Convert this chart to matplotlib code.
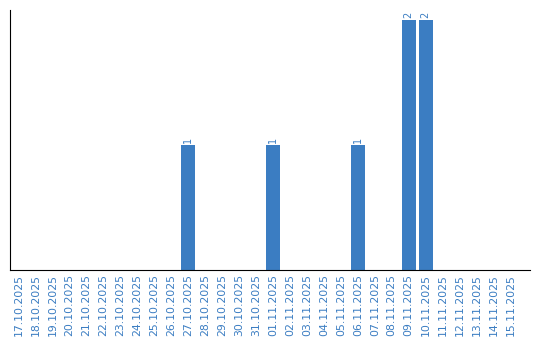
import matplotlib
matplotlib.use("Agg")
import matplotlib.pyplot as plt
import numpy as np
import pandas as pd

dates = pd.date_range("2025-10-17", "2025-11-15", freq="D")
labels = [d.strftime("%d.%m.%Y") for d in dates]
counts_map = {"27.10.2025": 1, "01.11.2025": 1, "06.11.2025": 1,
              "09.11.2025": 2, "10.11.2025": 2}
values = [counts_map.get(l, 0) for l in labels]

bar_color = "#3b7dc2"
text_color = "#3b7dc2"

fig = plt.figure(figsize=(5.4, 3.4), dpi=100)
ax = fig.add_axes([10/540, 70/340, 520/540, 260/340])
x = np.arange(len(labels))
bars = ax.bar(x, values, width=0.82, color=bar_color)
for xi, v in zip(x, values):
    if v > 0:
        ax.text(xi, v + 0.015, str(v), rotation=90, ha="center", va="bottom",
                color=text_color, fontsize=7)
ax.set_xlim(-0.5, 30.15)
ax.set_ylim(0, 2.08)
ax.set_xticks(x)
ax.set_xticklabels(labels, rotation=90, fontsize=7.8, color=text_color)
ax.tick_params(axis="x", length=0, pad=3)
ax.set_yticks([])
ax.spines["top"].set_visible(False)
ax.spines["right"].set_visible(False)
fig.savefig("out.png", dpi=100)
